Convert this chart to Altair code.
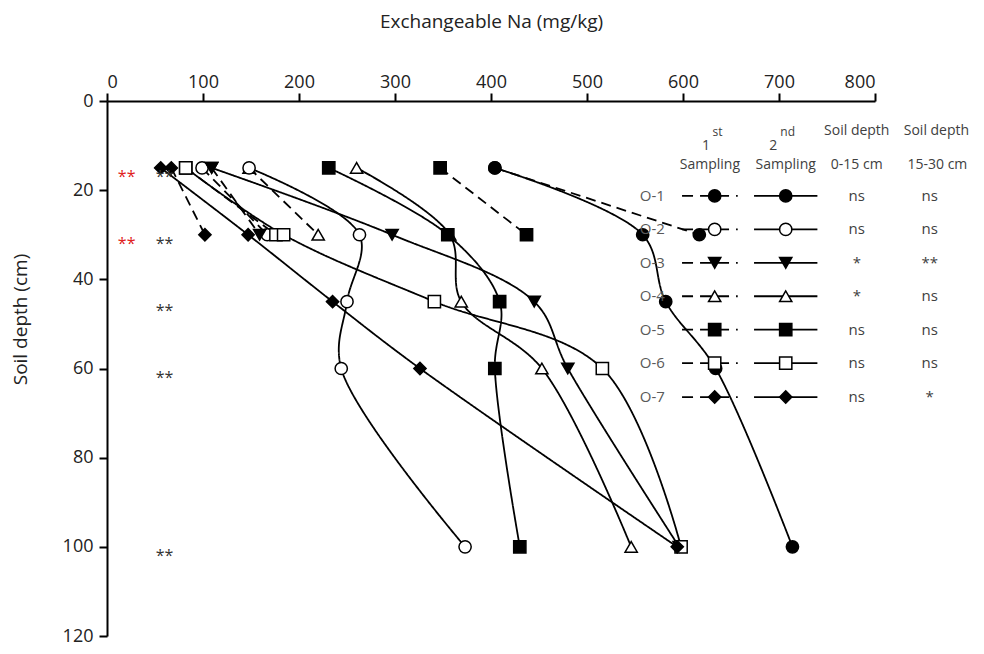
import altair as alt
import pandas as pd

# ---------------- data ----------------
series = ["O-1", "O-2", "O-3", "O-4", "O-5", "O-6", "O-7"]
shapes = ["circle", "circle", "triangle-down", "triangle-up", "square", "square", "diamond"]
fills = ["black", "white", "black", "white", "black", "white", "black"]

depth_1st = [15, 30]
depth_2nd = [15, 30, 45, 60, 100]

o1_1st = [404, 617]
o2_1st = [99, 167]
o3_1st = [109, 159]
o4_1st = [148, 220]
o5_1st = [347, 437]
o6_1st = [82, 176]
o7_1st = [67, 102]

o1_2nd = [404, 558, 582, 634, 714]
o2_2nd = [148, 263, 250, 244, 373]
o3_2nd = [109, 297, 445, 480, 596]
o4_2nd = [260, 357, 369, 453, 546]
o5_2nd = [231, 355, 409, 404, 430]
o6_2nd = [82, 184, 341, 516, 598]
o7_2nd = [56, 147, 235, 326, 594]

sig_0_15 = ["ns", "ns", "*", "*", "ns", "ns", "ns"]
sig_15_30 = ["ns", "ns", "**", "ns", "ns", "ns", "*"]

red_sig_depths = [15, 30]
black_sig_depths = [15, 30, 45, 60, 100]
sig_mark = "**"

# ---------------- build tables ----------------
first = [o1_1st, o2_1st, o3_1st, o4_1st, o5_1st, o6_1st, o7_1st]
second = [o1_2nd, o2_2nd, o3_2nd, o4_2nd, o5_2nd, o6_2nd, o7_2nd]

rows = []
for s, vals in zip(series, first):
    for d, v in zip(depth_1st, vals):
        rows.append({"series": s, "sampling": "1st", "key": s + "-1", "depth": d, "na": v})
for s, vals in zip(series, second):
    for d, v in zip(depth_2nd, vals):
        rows.append({"series": s, "sampling": "2nd", "key": s + "-2", "depth": d, "na": v})
df = pd.DataFrame(rows)

FONT = "Open Sans"

xscale = alt.Scale(domain=[0, 800], nice=False, zero=False)
yscale = alt.Scale(domain=[0, 120], reverse=True, nice=False, zero=False)

xaxis = alt.Axis(orient="top", values=list(range(0, 801, 100)), title="Exchangeable Na (mg/kg)",
                 grid=False, domainColor="black", domainWidth=2, tickColor="black", tickWidth=2,
                 tickSize=8, labelFontSize=18, labelFont=FONT, labelColor="#222222", labelPadding=2,
                 titleFont=FONT, titleFontSize=19, titleFontWeight="normal", titleColor="#222222",
                 titleY=-80, titleBaseline="middle")
yaxis = alt.Axis(orient="left", values=list(range(0, 121, 20)), title="Soil depth (cm)",
                 grid=False, domainColor="black", domainWidth=2, tickColor="black", tickWidth=2,
                 tickSize=8, labelFontSize=18, labelFont=FONT, labelColor="#222222", labelPadding=6,
                 titleFont=FONT, titleFontSize=19, titleFontWeight="normal", titleColor="#222222",
                 titleX=-87, titleY=218, titleBaseline="middle", titleAngle=270)

X = alt.X("na:Q", scale=xscale, axis=xaxis)
Y = alt.Y("depth:Q", scale=yscale, axis=yaxis)

dash_scale = alt.Scale(domain=["1st", "2nd"], range=[[10, 6], [1, 0]])
shape_scale = alt.Scale(domain=series, range=shapes)
fill_scale = alt.Scale(domain=series, range=fills)

lines = alt.Chart(df).mark_line(color="black", strokeWidth=1.8, interpolate="catmull-rom").encode(
    x=X, y=Y, detail="key:N", order="depth:Q",
    strokeDash=alt.StrokeDash("sampling:N", scale=dash_scale, legend=None),
)

points = alt.Chart(df).mark_point(filled=True, size=150, stroke="black", strokeWidth=1.5, opacity=1).encode(
    x="na:Q", y="depth:Q",
    shape=alt.Shape("series:N", scale=shape_scale, legend=None),
    fill=alt.Fill("series:N", scale=fill_scale, legend=None),
)

# significance marks on the left
sig_df = pd.DataFrame(
    [{"na": 20.5, "depth": d, "t": sig_mark, "c": "red"} for d in red_sig_depths]
    + [{"na": 60, "depth": d, "t": sig_mark, "c": "black"} for d in black_sig_depths]
)
sig_text = alt.Chart(sig_df).mark_text(font=FONT, fontSize=16, dy=9, baseline="middle").encode(
    x="na:Q", y="depth:Q", text="t:N",
    color=alt.Color("c:N", scale=alt.Scale(domain=["red", "black"], range=["#e02020", "#333333"]), legend=None),
)

# ---------------- legend table (in data coordinates) ----------------
row_y = [21.3, 28.8, 36.3, 43.8, 51.3, 58.8, 66.4]
leg = pd.DataFrame({
    "series": series, "depth": row_y,
    "lab_x": 555, "d1": 599, "d2": 657, "dm": 633, "s1": 674, "s2": 740, "sm": 707,
    "c1": 781, "c2": 857, "sig1": sig_0_15, "sig2": sig_15_30,
})

leg_labels = alt.Chart(leg).mark_text(font=FONT, fontSize=15, align="left", baseline="middle",
                                      color="#595959").encode(
    x="lab_x:Q", y="depth:Q", text="series:N")
leg_dash = alt.Chart(leg).mark_rule(color="black", strokeWidth=1.8, strokeDash=[11, 7]).encode(
    x="d1:Q", x2="d2:Q", y="depth:Q")
leg_solid = alt.Chart(leg).mark_rule(color="black", strokeWidth=1.8).encode(
    x="s1:Q", x2="s2:Q", y="depth:Q")
leg_pts1 = alt.Chart(leg).mark_point(filled=True, size=150, stroke="black", strokeWidth=1.5, opacity=1).encode(
    x="dm:Q", y="depth:Q",
    shape=alt.Shape("series:N", scale=shape_scale, legend=None),
    fill=alt.Fill("series:N", scale=fill_scale, legend=None))
leg_pts2 = alt.Chart(leg).mark_point(filled=True, size=150, stroke="black", strokeWidth=1.5, opacity=1).encode(
    x="sm:Q", y="depth:Q",
    shape=alt.Shape("series:N", scale=shape_scale, legend=None),
    fill=alt.Fill("series:N", scale=fill_scale, legend=None))
leg_sig1 = alt.Chart(leg).mark_text(font=FONT, fontSize=15, baseline="middle", color="#404040").encode(
    x="c1:Q", y="depth:Q", text="sig1:N")
leg_sig2 = alt.Chart(leg).mark_text(font=FONT, fontSize=15, baseline="middle", color="#404040").encode(
    x="c2:Q", y="depth:Q", text="sig2:N")

hdr = pd.DataFrame({
    "t": ["1", "Sampling", "2", "Sampling", "Soil depth", "0-15 cm", "Soil depth", "15-30 cm"],
    "na": [624, 628, 694, 707, 781, 781, 864, 865],
    "depth": [10.1, 14.3, 10.1, 14.3, 6.7, 14.3, 6.7, 14.3],
})
hdr_text = alt.Chart(hdr).mark_text(font=FONT, fontSize=14, baseline="middle", color="#404040").encode(
    x="na:Q", y="depth:Q", text="t:N")
sup = pd.DataFrame({"t": ["st", "nd"], "na": [636, 709], "depth": [6.9, 6.9]})
sup_text = alt.Chart(sup).mark_text(font=FONT, fontSize=12, baseline="middle", color="#404040").encode(
    x="na:Q", y="depth:Q", text="t:N")

chart = alt.layer(
    lines, points, sig_text,
    leg_dash, leg_solid, leg_pts1, leg_pts2, leg_labels, leg_sig1, leg_sig2, hdr_text, sup_text,
).properties(
    width=768, height=535,
    autosize=alt.AutoSizeParams(type="none"),
    padding={"left": 99, "top": 93, "right": 100, "bottom": 10},
).configure(background="white", view=alt.ViewConfig(stroke=None))

chart.save("out.html", embed_options={"renderer": "svg", "actions": False})
